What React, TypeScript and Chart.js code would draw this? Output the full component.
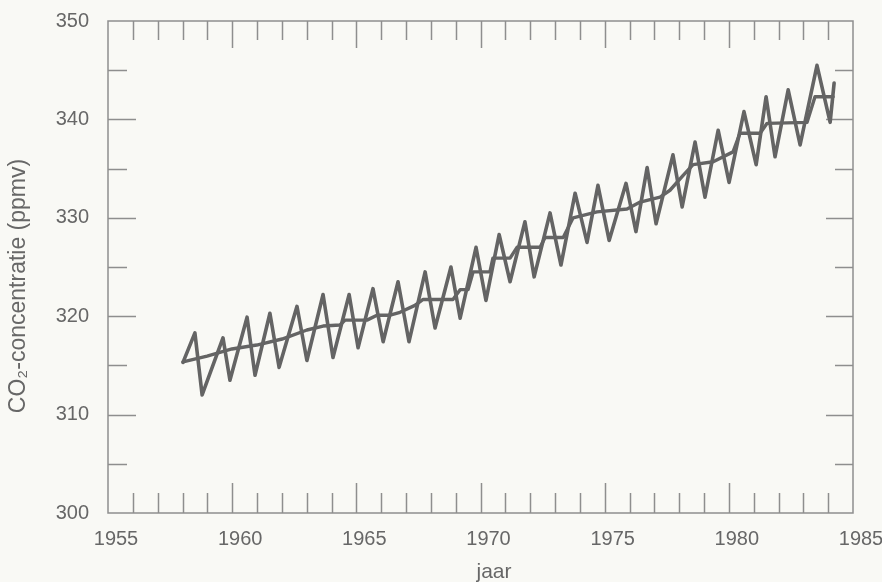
import React, { useEffect, useRef } from "react";
import { Chart, registerables } from "chart.js";

Chart.register(...registerables);

// Seasonal (zigzag) series: alternating vertices
const zigzagYears = [
  1958.02, 1958.5, 1958.79, 1959.63, 1959.91, 1960.6, 1960.92, 1961.52, 1961.89,
  1962.61, 1963.01, 1963.66, 1964.06, 1964.71, 1965.07, 1965.67, 1966.08, 1966.68,
  1967.12, 1967.77, 1968.17, 1968.81, 1969.18, 1969.82, 1970.22, 1970.75, 1971.19,
  1971.79, 1972.16, 1972.8, 1973.24, 1973.81, 1974.29, 1974.73, 1975.18, 1975.86,
  1976.26, 1976.71, 1977.07, 1977.75, 1978.12, 1978.64, 1979.04, 1979.57, 1980.01,
  1980.61, 1981.1, 1981.5, 1981.86, 1982.39, 1982.87, 1983.55, 1984.08, 1984.24,
];
const zigzagValues = [
  315.3, 318.3, 312.0, 317.8, 313.5, 319.9, 314.0, 320.3, 314.8,
  321.0, 315.5, 322.2, 315.8, 322.2, 316.8, 322.8, 317.4, 323.5,
  317.4, 324.5, 318.8, 325.0, 319.8, 327.0, 321.6, 328.3, 323.5,
  329.6, 324.0, 330.5, 325.2, 332.5, 327.5, 333.3, 327.7, 333.5,
  328.6, 335.1, 329.4, 336.4, 331.1, 337.7, 332.1, 338.9, 333.6,
  340.8, 335.4, 342.3, 336.2, 343.0, 337.4, 345.5, 339.7, 343.7,
];

// Annual mean (trend) line vertices
const meanYears = [
  1958.02, 1958.99, 1959.99, 1960.99, 1962.01, 1963.01, 1963.66, 1964.34, 1964.55,
  1965.43, 1965.83, 1966.36, 1966.76, 1967.36, 1967.69, 1968.89, 1969.18, 1969.5,
  1969.7, 1970.38, 1970.5, 1971.19, 1971.47, 1972.4, 1972.6, 1973.33, 1973.73,
  1974.69, 1975.9, 1976.43, 1977.23, 1977.63, 1978.16, 1978.56, 1979.37, 1980.17,
  1980.45, 1981.26, 1981.54, 1983.15, 1983.47, 1984.2,
];
const meanValues = [
  315.35, 315.95, 316.67, 317.07, 317.68, 318.6, 319.0, 319.1, 319.6,
  319.6, 320.1, 320.1, 320.4, 321.1, 321.7, 321.7, 322.7, 322.7,
  324.5, 324.5, 325.9, 325.9, 327.0, 327.0, 328.0, 328.0, 330.0,
  330.6, 330.9, 331.6, 332.1, 332.8, 334.3, 335.4, 335.7, 336.7,
  338.6, 338.6, 339.6, 339.7, 342.3, 342.3,
];

// Tick labels and axis titles
const xTickLabels = [1955, 1960, 1965, 1970, 1975, 1980, 1985];
const yTickLabels = [300, 310, 320, 330, 340, 350];
const xTitle = "jaar";
const yTitle = "CO₂-concentratie (ppmv)";

const BG = "#f9f9f5";
const LINE = "#646464";
const AXIS = "#8e8e8e";
const TEXT = "#676767";
const FONT = "'Liberation Sans', Arial, Helvetica, sans-serif";

const frameTicks = {
  id: "frameTicks",
  beforeDatasetsDraw(chart: any) {
    const { ctx, chartArea, scales } = chart;
    const { left, right, top, bottom } = chartArea;
    const xs = scales.x;
    const ys = scales.y;
    ctx.save();
    ctx.strokeStyle = AXIS;
    ctx.lineWidth = 1.5;
    ctx.strokeRect(left, top, right - left, bottom - top);
    const seg = (x1: number, y1: number, x2: number, y2: number) => {
      ctx.beginPath();
      ctx.moveTo(x1, y1);
      ctx.lineTo(x2, y2);
      ctx.stroke();
    };
    for (let yr = xs.min + 1; yr < xs.max; yr++) {
      const px = Math.round(xs.getPixelForValue(yr)) + 0.5;
      const major = yr % 5 === 0;
      seg(px, bottom, px, bottom - (major ? 30 : 20));
      seg(px, top, px, top + (major ? 27 : 19));
    }
    for (let v = ys.min + 5; v < ys.max; v += 5) {
      const py = Math.round(ys.getPixelForValue(v)) + 0.5;
      const major = v % 10 === 0;
      seg(left, py, left + (major ? 28 : 19), py);
      seg(right, py, right - (major ? 27 : 18), py);
    }
    ctx.restore();
  },
  afterDraw(chart: any) {
    const { ctx } = chart;
    ctx.save();
    ctx.fillStyle = TEXT;
    ctx.font = `21px ${FONT}`;
    ctx.textAlign = "center";
    ctx.textBaseline = "alphabetic";
    ctx.fillText(xTitle, 494, 578);
    ctx.translate(25, 286);
    ctx.rotate(-Math.PI / 2);
    ctx.font = `23px ${FONT}`;
    ctx.fillText(yTitle, 0, 0);
    ctx.restore();
  },
};

export default function App() {
  const ref = useRef<HTMLCanvasElement | null>(null);

  useEffect(() => {
    if (!ref.current) return;
    const zigzag = zigzagYears.map((x, i) => ({ x, y: zigzagValues[i] }));
    const mean = meanYears.map((x, i) => ({ x, y: meanValues[i] }));
    const chart = new Chart(ref.current, {
      type: "scatter",
      data: {
        datasets: [
          {
            label: "seizoen",
            data: zigzag,
            showLine: true,
            borderColor: LINE,
            borderWidth: 3.6,
            pointRadius: 0,
            tension: 0,
            borderJoinStyle: "round",
            borderCapStyle: "round",
          },
          {
            label: "jaargemiddelde",
            data: mean,
            showLine: true,
            borderColor: LINE,
            borderWidth: 3.4,
            pointRadius: 0,
            tension: 0,
            borderJoinStyle: "round",
            borderCapStyle: "round",
          },
        ],
      },
      options: {
        animation: false,
        responsive: false,
        maintainAspectRatio: false,
        layout: { padding: { top: 21, right: 29, left: 0, bottom: 0 } },
        plugins: {
          legend: { display: false },
          tooltip: { enabled: false },
        },
        scales: {
          x: {
            type: "linear",
            min: 1955,
            max: 1985,
            grid: { display: false, drawTicks: false },
            border: { display: false },
            afterBuildTicks: (s: any) => {
              s.ticks = xTickLabels.map((value) => ({ value }));
            },
            afterFit: (s: any) => {
              s.height = 69;
              s.paddingLeft = 0;
              s.paddingRight = 0;
            },
            ticks: {
              color: TEXT,
              font: { family: FONT, size: 20 },
              padding: 14,
              labelOffset: 8,
              maxRotation: 0,
              autoSkip: false,
              callback: (v: any) => String(v),
            },
            title: { display: false, text: xTitle },
          },
          y: {
            type: "linear",
            min: 300,
            max: 350,
            grid: { display: false, drawTicks: false },
            border: { display: false },
            afterBuildTicks: (s: any) => {
              s.ticks = yTickLabels.map((value) => ({ value }));
            },
            afterFit: (s: any) => {
              s.width = 108;
              s.paddingTop = 0;
              s.paddingBottom = 0;
            },
            ticks: {
              color: TEXT,
              font: { family: FONT, size: 20 },
              padding: 19,
              callback: (v: any) => String(v),
            },
            title: { display: false, text: yTitle },
          },
        },
      },
      plugins: [frameTicks],
    });
    return () => chart.destroy();
  }, []);

  return (
    <div
      style={{
        position: "fixed",
        left: 0,
        top: 0,
        width: 882,
        height: 582,
        background: BG,
      }}
    >
      <canvas ref={ref} width={882} height={582} style={{ display: "block" }} />
    </div>
  );
}
